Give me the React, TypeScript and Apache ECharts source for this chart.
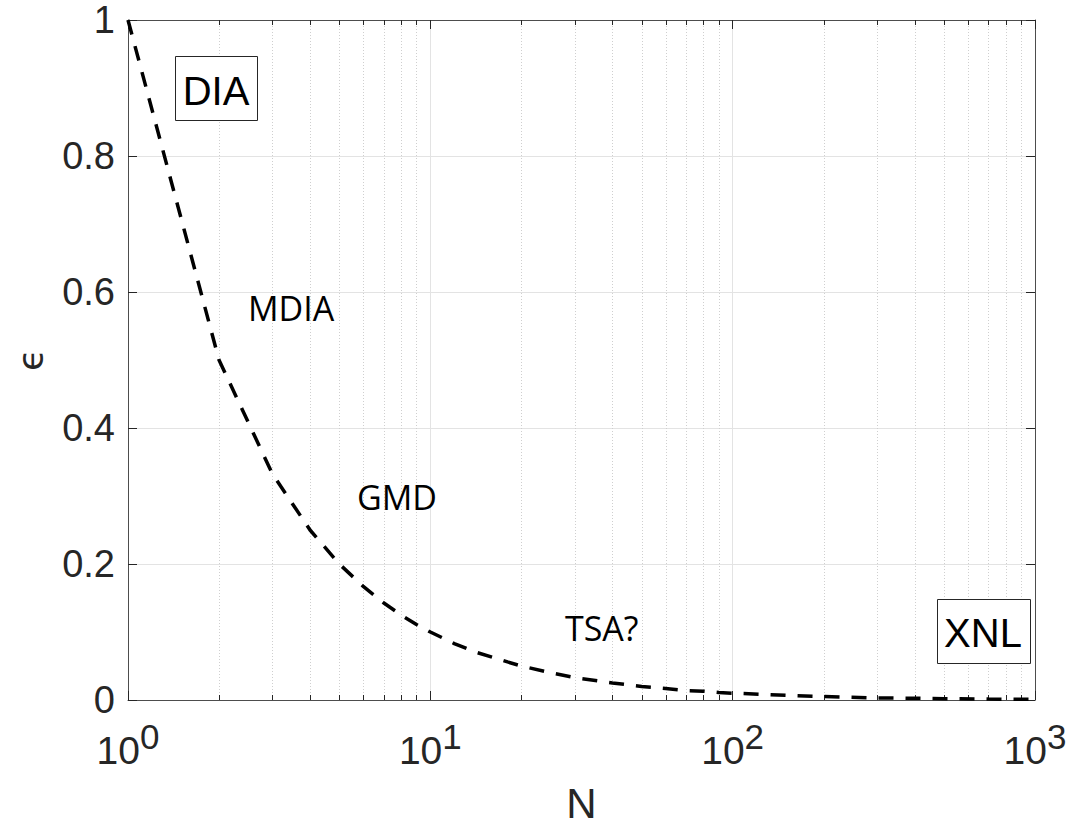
import React, { useEffect, useRef } from "react";
import * as echarts from "echarts";

// Sampled curve: error rate epsilon versus number of nodes N
const nValues = [
  1, 2, 3, 4, 5, 6, 7, 8, 9, 10, 12, 14, 16, 18, 20, 25, 30, 40, 50, 60, 70,
  80, 90, 100, 150, 200, 300, 400, 500, 700, 1000,
];
const epsValues = [
  1, 0.5, 0.333, 0.25, 0.2, 0.167, 0.143, 0.125, 0.111, 0.1, 0.083, 0.071,
  0.063, 0.056, 0.05, 0.04, 0.033, 0.025, 0.02, 0.017, 0.014, 0.013, 0.011,
  0.01, 0.007, 0.005, 0.003, 0.0025, 0.002, 0.0014, 0.001,
];

// Minor (2..9 per decade) tick positions on the log axis
const minorTicksN = [
  2, 3, 4, 5, 6, 7, 8, 9, 20, 30, 40, 50, 60, 70, 80, 90, 200, 300, 400, 500,
  600, 700, 800, 900,
];

const xAxisName = "N";
const yAxisName = "\u03F5";
const regionLabels = ["DIA", "MDIA", "GMD", "TSA?", "XNL"];

export default function App() {
  const ref = useRef<HTMLDivElement>(null);

  useEffect(() => {
    const chart = echarts.init(ref.current!, null, { renderer: "svg" });
    const axisColor = "#262626";
    const lineColor = "#4d4d4d";
    const gridColor = "#e3e3e3";
    const sans = "Liberation Sans, Arial, Helvetica, sans-serif";
    const labelFont = "Open Sans, Noto Sans, sans-serif";

    const option: any = {
      animation: false,
      backgroundColor: "#ffffff",
      grid: {
        left: 128,
        right: 54,
        top: 20,
        bottom: 127,
        containLabel: false,
        outerBoundsMode: "none",
      },
      xAxis: [
        {
          type: "log",
          logBase: 10,
          min: 1,
          max: 1000,
          position: "bottom",
          name: xAxisName,
          nameLocation: "middle",
          nameGap: 86,
          nameTextStyle: { fontSize: 42, lineHeight: 34, fontFamily: sans, color: axisColor },
          axisLine: { show: true, onZero: false, lineStyle: { color: lineColor, width: 1 } },
          axisTick: { show: true, inside: true, length: 9, lineStyle: { color: axisColor } },
          axisLabel: {
            margin: 19,
            formatter: (v: number) => `{b|10}{s|${Math.round(Math.log10(v))}}`,
            rich: {
              b: { fontSize: 39, fontFamily: sans, color: axisColor, verticalAlign: "bottom" },
              s: {
                fontSize: 35,
                fontFamily: sans,
                color: axisColor,
                verticalAlign: "bottom",
                padding: [0, 0, 16, 0],
              },
            },
          },
          splitLine: { show: true, lineStyle: { color: gridColor, width: 1 } },
        },
        {
          type: "log",
          logBase: 10,
          min: 1,
          max: 1000,
          position: "top",
          axisLine: { show: true, onZero: false, lineStyle: { color: lineColor, width: 1 } },
          axisTick: { show: true, inside: true, length: 9, lineStyle: { color: axisColor } },
          axisLabel: { show: false },
          splitLine: { show: false },
        },
      ],
      yAxis: [
        {
          type: "value",
          min: 0,
          max: 1,
          interval: 0.2,
          position: "left",
          name: yAxisName,
          nameLocation: "middle",
          nameGap: 80,
          nameRotate: 90,
          nameTextStyle: { fontSize: 36, fontFamily: "DejaVu Sans, sans-serif", color: axisColor },
          axisLine: { show: true, onZero: false, lineStyle: { color: lineColor, width: 1 } },
          axisTick: { show: true, inside: true, length: 9, lineStyle: { color: axisColor } },
          axisLabel: {
            fontSize: 38,
            lineHeight: 32,
            fontFamily: sans,
            color: axisColor,
            margin: 13,
          },
          splitLine: { show: true, lineStyle: { color: gridColor, width: 1 } },
        },
        {
          type: "value",
          min: 0,
          max: 1,
          interval: 0.2,
          position: "right",
          axisLine: { show: true, onZero: false, lineStyle: { color: lineColor, width: 1 } },
          axisTick: { show: true, inside: true, length: 9, lineStyle: { color: axisColor } },
          axisLabel: { show: false },
          splitLine: { show: false },
        },
      ],
      series: [
        {
          // dotted minor grid lines and the short minor ticks on bottom and top edges
          type: "custom",
          xAxisIndex: 0,
          yAxisIndex: 0,
          silent: true,
          z: 1,
          data: minorTicksN.map((n) => [n, 0]),
          encode: { x: 0, y: 1 },
          renderItem: (_params: any, api: any) => {
            const v = api.value(0);
            const b = api.coord([v, 0]);
            const t = api.coord([v, 1]);
            const x = Math.round(b[0]) + 0.5;
            return {
              type: "group",
              children: [
                {
                  type: "line",
                  shape: { x1: x, y1: t[1], x2: x, y2: b[1] },
                  style: { stroke: "#cfcfcf", lineWidth: 1, lineDash: [1, 2] },
                },
                {
                  type: "line",
                  shape: { x1: x, y1: b[1], x2: x, y2: b[1] - 5 },
                  style: { stroke: axisColor, lineWidth: 1 },
                },
                {
                  type: "line",
                  shape: { x1: x, y1: t[1], x2: x, y2: t[1] + 5 },
                  style: { stroke: axisColor, lineWidth: 1 },
                },
              ],
            };
          },
        },
        {
          type: "line",
          xAxisIndex: 0,
          yAxisIndex: 0,
          z: 5,
          symbol: "none",
          data: nValues.map((n, i) => [n, epsValues[i]]),
          lineStyle: { color: "#000000", width: 3.5, type: [15, 12] },
        },
      ],
      graphic: [
        {
          type: "rect",
          z: 10,
          shape: { x: 175.5, y: 56.5, width: 82, height: 64 },
          style: { fill: "#ffffff", stroke: axisColor, lineWidth: 1 },
        },
        {
          type: "text",
          z: 11,
          x: 216,
          y: 91,
          style: {
            text: regionLabels[0],
            fontSize: 40,
            fontFamily: sans,
            fill: "#000000",
            align: "center",
            textAlign: "center",
            verticalAlign: "middle",
            textVerticalAlign: "middle",
          },
        },
        {
          type: "text",
          z: 11,
          x: 248,
          y: 308,
          style: {
            text: regionLabels[1],
            fontSize: 34,
            fontFamily: labelFont,
            fill: "#000000",
            align: "left",
            textAlign: "left",
            verticalAlign: "middle",
            textVerticalAlign: "middle",
          },
        },
        {
          type: "text",
          z: 11,
          x: 357,
          y: 497,
          style: {
            text: regionLabels[2],
            fontSize: 34,
            fontFamily: labelFont,
            fill: "#000000",
            align: "left",
            textAlign: "left",
            verticalAlign: "middle",
            textVerticalAlign: "middle",
          },
        },
        {
          type: "text",
          z: 11,
          x: 565,
          y: 628,
          style: {
            text: regionLabels[3],
            fontSize: 34,
            fontFamily: labelFont,
            fill: "#000000",
            align: "left",
            textAlign: "left",
            verticalAlign: "middle",
            textVerticalAlign: "middle",
          },
        },
        {
          type: "rect",
          z: 10,
          shape: { x: 937.5, y: 599.5, width: 93, height: 64 },
          style: { fill: "#ffffff", stroke: axisColor, lineWidth: 1 },
        },
        {
          type: "text",
          z: 11,
          x: 983,
          y: 633,
          style: {
            text: regionLabels[4],
            fontSize: 40,
            fontFamily: sans,
            fill: "#000000",
            align: "center",
            textAlign: "center",
            verticalAlign: "middle",
            textVerticalAlign: "middle",
          },
        },
      ],
    };

    chart.setOption(option);
    return () => chart.dispose();
  }, []);

  return (
    <div
      ref={ref}
      style={{ position: "fixed", left: 0, top: 0, width: 1089, height: 827, background: "#fff" }}
    />
  );
}
